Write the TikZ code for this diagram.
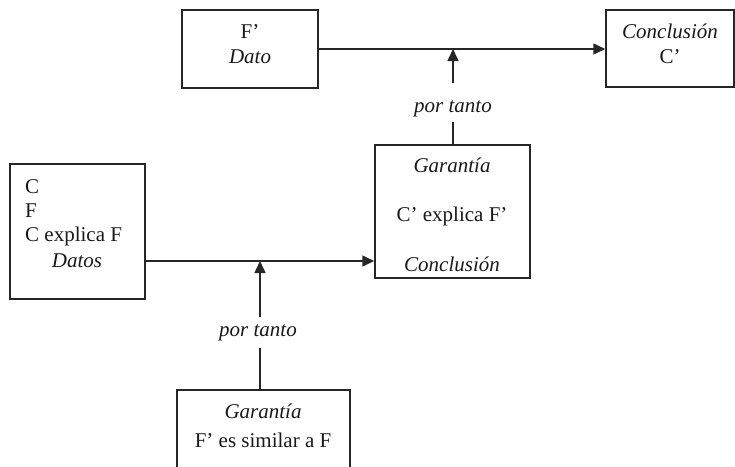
\documentclass[tikz,border=0pt]{standalone}
\usepackage{fontspec}
\setmainfont{Liberation Serif}
\usetikzlibrary{arrows.meta}
\begin{document}
\begin{tikzpicture}[x=1pt,y=-1pt,
  box/.style={draw=black!85, line width=1.5pt, inner sep=0pt},
  txt/.style={font=\fontsize{21}{25}\selectfont, inner sep=0pt, anchor=base, text=black!90},
  itx/.style={txt, font=\fontsize{21}{25}\selectfont\itshape},
  conn/.style={draw=black!85, line width=1.5pt},
  arr/.style={conn, -{Triangle[length=12pt,width=11pt]}}]
\useasboundingbox (0,0) rectangle (735,466);
\clip (0,0) rectangle (735,466);
% boxes
\node[box, minimum width=136pt, minimum height=78pt] (dato) at (250,49) {};
\node[box, minimum width=128pt, minimum height=77pt] (concl) at (670,48.5) {};
\node[box, minimum width=155pt, minimum height=133pt] (gar1) at (452.5,211.5) {};
\node[box, minimum width=135pt, minimum height=135pt] (datos) at (77.5,231.5) {};
\node[box, minimum width=173pt, minimum height=120pt] (gar2) at (263.5,450) {};
% texts
\node[txt] (t1) at (250,38) {F’};
\node[itx] (t2) at (250,63) {Dato};
\node[itx] (t3) at (670,38) {Conclusión};
\node[txt] (t4) at (670,63) {C’};
\node[txt, anchor=base west] (t5) at (25,193) {C};
\node[txt, anchor=base west] (t6) at (25,217) {F};
\node[txt, anchor=base west] (t7) at (25,241) {C explica F};
\node[itx] (t8) at (77,267) {Datos};
\node[itx] (t9) at (452,172) {Garantía};
\node[txt] (t10) at (452,221) {C’ explica F’};
\node[itx] (t11) at (452,271) {Conclusión};
\node[itx] (t12) at (263,418) {Garantía};
\node[txt] (t13) at (263,447) {F’ es similar a F};
\node[itx] (p1) at (453,112) {por tanto};
\node[itx] (p2) at (258,336) {por tanto};
% connector helpers
\coordinate (j1) at (453,49);
\coordinate (a1) at (453,83);
\coordinate (b1) at (453,122);
\coordinate (j2) at (260,261);
\coordinate (a2) at (260,317);
\coordinate (b2) at (260,348);
% connectors
\draw[arr] (dato.east) -- (dato.east -| concl.west);
\draw[arr] (datos.east |- j2) -- (j2 -| gar1.west);
\draw[conn] (b1) -- (b1 |- gar1.north);
\draw[arr] (a1) -- (j1);
\draw[conn] (b2) -- (b2 |- gar2.north);
\draw[arr] (a2) -- (j2);
\end{tikzpicture}
\end{document}
